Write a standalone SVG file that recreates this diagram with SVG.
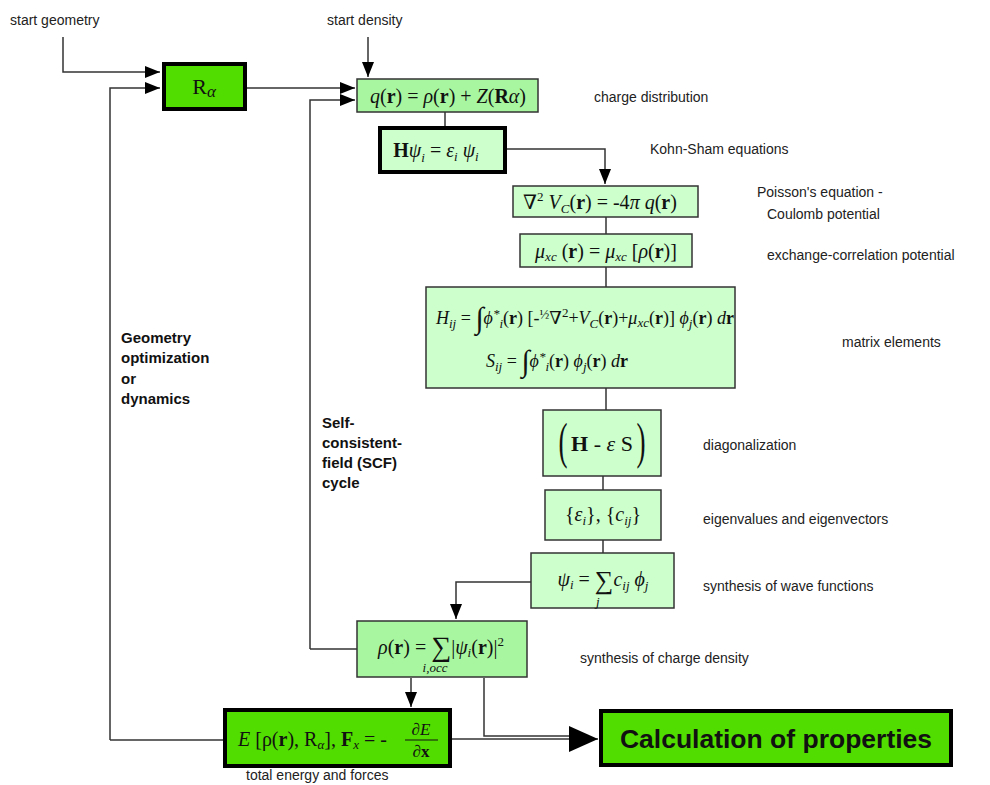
<svg xmlns="http://www.w3.org/2000/svg" width="990" height="785" viewBox="0 0 990 785">
<style>
.lbl{font-family:"Liberation Sans",Arial,sans-serif;font-size:14px;fill:#222}
.blbl{font-family:"Liberation Sans",Arial,sans-serif;font-size:15px;font-weight:bold;fill:#111}
.m{font-family:"Liberation Serif","DejaVu Serif",serif;font-size:20px;fill:#111}
.i{font-style:italic}
.b{font-weight:bold}
.s{font-size:13px}
.dark{fill:#52dd00;stroke:#000;stroke-width:4}
.mid{fill:#a8f7a0;stroke:#333;stroke-width:1.5}
.lite{fill:#ccffcc;stroke:#333;stroke-width:1.5}
.thick{fill:#ccffcc;stroke:#000;stroke-width:4}
.c{fill:none;stroke:#333;stroke-width:1.5}
</style>
<defs>
<marker id="ah" markerUnits="userSpaceOnUse" markerWidth="16" markerHeight="12" refX="15" refY="6" orient="auto">
<path d="M0,0 L15,6 L0,12 Z" fill="#000"/>
</marker>
<marker id="big" markerUnits="userSpaceOnUse" markerWidth="30" markerHeight="28" refX="29" refY="14" orient="auto">
<path d="M0,1 L29,14 L0,27 Z" fill="#000"/>
</marker>
</defs>
<rect width="990" height="785" fill="#fff"/>

<g id="connectors">
<path class="c" d="M63,37 V72 H160" marker-end="url(#ah)"/>
<path class="c" d="M110,740 V88 H160" marker-end="url(#ah)"/>
<path class="c" d="M245,88 H355" marker-end="url(#ah)"/>
<path class="c" d="M368,37 V77" marker-end="url(#ah)"/>
<path class="c" d="M310,649 V100 H355" marker-end="url(#ah)"/>
<path class="c" d="M310,649 H357"/>
<path class="c" d="M445,112 V127"/>
<path class="c" d="M505,149 H605 V184" marker-end="url(#ah)"/>
<path class="c" d="M606,217 V234"/>
<path class="c" d="M606,267 V287"/>
<path class="c" d="M606,388 V410"/>
<path class="c" d="M603,476 V490"/>
<path class="c" d="M603,540 V553"/>
<path class="c" d="M531,582 H456 V619" marker-end="url(#ah)"/>
<path class="c" d="M411,678 V707" marker-end="url(#ah)"/>
<path class="c" d="M224,740 H110"/>
<path class="c" d="M484,678 V736 H575"/>
<path class="c" d="M450,739 H598" marker-end="url(#big)"/>
</g>

<g id="start-geometry"><text class="lbl" x="10" y="25">start geometry</text></g>
<g id="start-density"><text class="lbl" x="327" y="25">start density</text></g>

<g id="R-alpha">
<rect class="dark" x="164" y="64" width="81" height="45"/>
<text class="m" x="204" y="94" text-anchor="middle" style="font-size:22px">R<tspan class="i" style="font-size:17px" dy="3">α</tspan></text>
</g>

<g id="charge-distribution">
<rect class="mid" x="357" y="79" width="181" height="33"/>
<text class="m" x="448" y="103" text-anchor="middle"><tspan class="i">q</tspan>(<tspan class="b">r</tspan>) = <tspan class="i">ρ</tspan>(<tspan class="b">r</tspan>) + <tspan class="i">Z</tspan>(<tspan class="b">R</tspan><tspan class="i">α</tspan>)</text>
<text class="lbl" x="594" y="102">charge distribution</text>
</g>

<g id="kohn-sham">
<rect class="thick" x="380" y="128" width="125" height="44"/>
<text class="m" x="436" y="157" text-anchor="middle"><tspan class="b">H</tspan><tspan class="i">ψ</tspan><tspan class="i s" dy="5">i</tspan><tspan dy="-5"> =  </tspan><tspan class="i">ε</tspan><tspan class="i s" dy="4">i</tspan><tspan class="i" dy="-4"> ψ</tspan><tspan class="i s" dy="4">i</tspan></text>
<text class="lbl" x="650" y="154">Kohn-Sham equations</text>
</g>

<g id="poisson">
<rect class="lite" x="513" y="186" width="185" height="31"/>
<text class="m" x="600" y="209" text-anchor="middle">∇<tspan class="s" dy="-8">2</tspan><tspan class="i" dy="8"> V</tspan><tspan class="i s" dy="4">C</tspan><tspan dy="-4">(</tspan><tspan class="b">r</tspan>)  =  -4<tspan class="i">π q</tspan>(<tspan class="b">r</tspan>)</text>
<text class="lbl" x="757" y="197">Poisson's equation -</text>
<text class="lbl" x="767" y="219">Coulomb potential</text>
</g>

<g id="xc-potential">
<rect class="lite" x="520" y="234" width="172" height="33"/>
<text class="m" x="606" y="258" text-anchor="middle"><tspan class="i">μ</tspan><tspan class="i s" dy="3">xc</tspan><tspan dy="-3"> (</tspan><tspan class="b">r</tspan>)  = <tspan class="i">μ</tspan><tspan class="i s" dy="3">xc</tspan><tspan dy="-3"> [</tspan><tspan class="i">ρ</tspan>(<tspan class="b">r</tspan>)]</text>
<text class="lbl" x="767" y="260">exchange-correlation potential</text>
</g>

<g id="matrix-elements">
<rect class="lite" x="426" y="287" width="309" height="101"/>
<text class="m" x="436" y="324" style="font-size:18px"><tspan class="i">H</tspan><tspan class="i s" dy="4">ij</tspan><tspan dy="-4"> = </tspan><tspan style="font-size:30px" dy="4">∫</tspan><tspan class="i" dy="-4">ϕ</tspan><tspan class="i s" dy="-6">*</tspan><tspan class="i s" dy="10">i</tspan><tspan dy="-4">(</tspan><tspan class="b">r</tspan>) [-<tspan class="s" dy="-5">½</tspan><tspan dy="5">∇</tspan><tspan class="s" dy="-7">2</tspan><tspan dy="7">+</tspan><tspan class="i">V</tspan><tspan class="i s" dy="4">C</tspan><tspan dy="-4">(</tspan><tspan class="b">r</tspan>)+<tspan class="i">μ</tspan><tspan class="i s" dy="3">xc</tspan><tspan dy="-3">(</tspan><tspan class="b">r</tspan>)] <tspan class="i">ϕ</tspan><tspan class="i s" dy="4">j</tspan><tspan dy="-4">(</tspan><tspan class="b">r</tspan>) <tspan class="i">d</tspan><tspan class="b">r</tspan></text>
<text class="m" x="486" y="367" style="font-size:18px"><tspan class="i">S</tspan><tspan class="i s" dy="4">ij</tspan><tspan dy="-4"> = </tspan><tspan style="font-size:30px" dy="4">∫</tspan><tspan class="i" dy="-4">ϕ</tspan><tspan class="i s" dy="-6">*</tspan><tspan class="i s" dy="10">i</tspan><tspan dy="-4">(</tspan><tspan class="b">r</tspan>) <tspan class="i">ϕ</tspan><tspan class="i s" dy="4">j</tspan><tspan dy="-4">(</tspan><tspan class="b">r</tspan>) <tspan class="i">d</tspan><tspan class="b">r</tspan></text>
<text class="lbl" x="842" y="347">matrix elements</text>
</g>

<g id="diagonalization">
<rect class="lite" x="543" y="410" width="118" height="66"/>
<text class="m" text-anchor="middle" transform="translate(563,458) scale(0.8,1.5)" style="font-size:34px">(</text>
<text class="m" text-anchor="middle" transform="translate(641,458) scale(0.8,1.5)" style="font-size:34px">)</text>
<text class="m" x="602" y="451" text-anchor="middle" style="font-size:22px"><tspan class="b">H</tspan> - <tspan class="i">ε</tspan> S</text>
<text class="lbl" x="703" y="450">diagonalization</text>
</g>

<g id="eigen">
<rect class="lite" x="545" y="490" width="116" height="50"/>
<text class="m" x="603" y="521" text-anchor="middle">{<tspan class="i">ε</tspan><tspan class="i s" dy="4">i</tspan><tspan dy="-4">}, {</tspan><tspan class="i">c</tspan><tspan class="i s" dy="4">ij</tspan><tspan dy="-4">}</tspan></text>
<text class="lbl" x="703" y="524">eigenvalues and eigenvectors</text>
</g>

<g id="wave-functions">
<rect class="lite" x="531" y="553" width="143" height="55"/>
<text class="m" x="603" y="586" text-anchor="middle"><tspan class="i">ψ</tspan><tspan class="i s" dy="3">i</tspan><tspan dy="-3"> = </tspan><tspan style="font-size:26px" dy="3">∑</tspan><tspan class="i" dy="-3">c</tspan><tspan class="i s" dy="4">ij</tspan><tspan class="i" dy="-4"> ϕ</tspan><tspan class="i s" dy="4">j</tspan></text>
<text class="m i s" x="596" y="606">j</text>
<text class="lbl" x="703" y="591">synthesis of wave functions</text>
</g>

<g id="charge-density">
<rect class="mid" x="357" y="621" width="170" height="56"/>
<text class="m" x="441" y="654" text-anchor="middle"><tspan class="i">ρ</tspan>(<tspan class="b">r</tspan>)  = <tspan style="font-size:28px" dy="2">∑</tspan><tspan dy="-2">|</tspan><tspan class="i">ψ</tspan><tspan class="i s" dy="3">i</tspan><tspan dy="-3">(</tspan><tspan class="b">r</tspan>)|<tspan class="s" dy="-8">2</tspan></text>
<text class="m i s" x="435" y="672" text-anchor="middle">i,occ</text>
<text class="lbl" x="580" y="663">synthesis of charge density</text>
</g>

<g id="energy-forces">
<rect class="dark" x="225" y="710" width="225" height="56"/>
<text class="m" x="238" y="746"><tspan class="i">E</tspan> [ρ(<tspan class="b">r</tspan>), R<tspan class="i s" dy="3">α</tspan><tspan dy="-3">],    </tspan><tspan class="b">F</tspan><tspan class="i s" dy="3">x</tspan><tspan dy="-3"> = - </tspan></text>
<text class="m i" x="421" y="735" text-anchor="middle" style="font-size:17px">∂E</text>
<line x1="405" y1="740" x2="438" y2="740" stroke="#111" stroke-width="1"/>
<text class="m" x="421" y="757" text-anchor="middle" style="font-size:17px"><tspan class="i">∂</tspan><tspan class="b">x</tspan></text>
<text class="lbl" x="246" y="780">total energy and forces</text>
</g>

<g id="properties">
<rect class="dark" x="601" y="711" width="350" height="54"/>
<text x="776" y="748" text-anchor="middle" font-family="Liberation Sans,Arial,sans-serif" font-size="26.5" font-weight="bold" fill="#111">Calculation of properties</text>
</g>

<g id="geometry-label">
<text class="blbl" x="121" y="343">Geometry</text>
<text class="blbl" x="121" y="363">optimization</text>
<text class="blbl" x="121" y="384">or</text>
<text class="blbl" x="121" y="404">dynamics</text>
</g>

<g id="scf-label">
<text class="blbl" x="322" y="428">Self-</text>
<text class="blbl" x="322" y="448">consistent-</text>
<text class="blbl" x="322" y="468">field (SCF)</text>
<text class="blbl" x="322" y="488">cycle</text>
</g>
</svg>
